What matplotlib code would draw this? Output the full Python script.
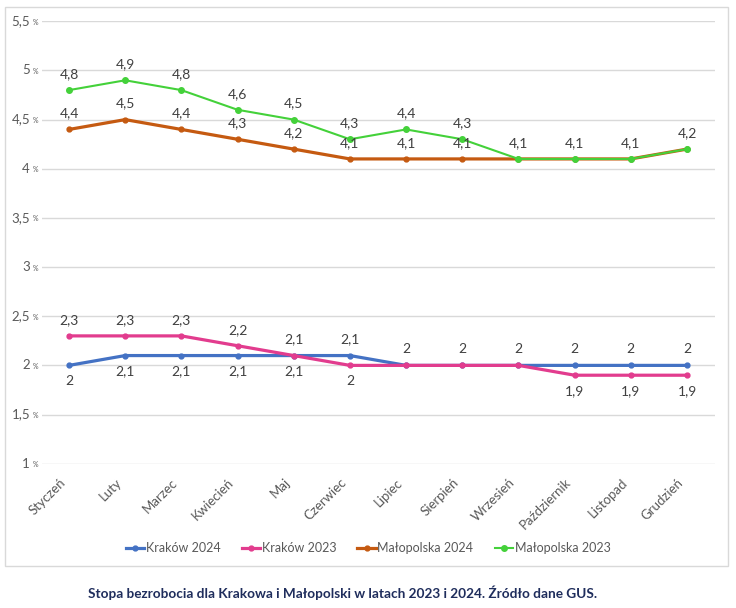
import matplotlib
matplotlib.use("Agg")
import matplotlib.pyplot as plt
from matplotlib.patches import Rectangle
from matplotlib.lines import Line2D
from matplotlib.transforms import ScaledTranslation

months = ["Styczeń", "Luty", "Marzec", "Kwiecień", "Maj", "Czerwiec", "Lipiec",
          "Sierpień", "Wrzesień", "Październik", "Listopad", "Grudzień"]
krakow_2024 = [2, 2.1, 2.1, 2.1, 2.1, 2.1, 2, 2, 2, 2, 2, 2]
krakow_2023 = [2.3, 2.3, 2.3, 2.2, 2.1, 2, 2, 2, 2, 1.9, 1.9, 1.9]
malopolska_2024 = [4.4, 4.5, 4.4, 4.3, 4.2, 4.1, 4.1, 4.1, 4.1, 4.1, 4.1, 4.2]
malopolska_2023 = [4.8, 4.9, 4.8, 4.6, 4.5, 4.3, 4.4, 4.3, 4.1, 4.1, 4.1, 4.2]
y_ticks = [1, 1.5, 2, 2.5, 3, 3.5, 4, 4.5, 5, 5.5]
title = "Stopa bezrobocia dla Krakowa i Małopolski w latach 2023 i 2024. Źródło dane GUS."

# label placement (+1 above, -1 below, 0 hidden)
pos_k24 = [-1, -1, -1, -1, -1, 1, 1, 1, 1, 1, 1, 1]
pos_k23 = [1, 1, 1, 1, 1, -1, 0, 0, 0, -1, -1, -1]
pos_m24 = [1, 1, 1, 1, 1, 1, 1, 1, 0, 0, 0, 0]
pos_m23 = [1] * 12

W, H = 736, 608
plt.rcParams['font.family'] = ['Lato', 'DejaVu Sans']
fig = plt.figure(figsize=(W / 100, H / 100), dpi=100)

# chart frame
fig.patches.append(Rectangle((5 / W, 1 - 566 / H), (728 - 5) / W, (566 - 7) / H,
                             transform=fig.transFigure, fill=False,
                             edgecolor="#d9d9d9", linewidth=1.0))

x_left, x_right = 42, 715
y_top, y_bot = 21.3, 463.7
ax = fig.add_axes([x_left / W, 1 - y_bot / H, (x_right - x_left) / W, (y_bot - y_top) / H])
ax.set_ylim(1, 5.5)
step = (687 - 69) / 11
ax.set_xlim(-(69 - x_left) / step, 11 + (x_right - 687) / step)
for s in ax.spines.values():
    s.set_visible(False)
ax.set_yticks(y_ticks)
ax.yaxis.grid(True, color="#d9d9d9", linewidth=1)
ax.set_axisbelow(True)
ax.tick_params(axis="both", length=0)
ax.set_yticklabels([])
tc = "#595959"
for v in y_ticks:
    lbl = (f"{v:g}").replace(".", ",")
    ax.annotate(lbl, xy=(0, v), xycoords=("axes fraction", "data"),
                xytext=(-12, 0), textcoords="offset pixels",
                ha="right", va="center", fontsize=9.5, color=tc)
    ax.annotate("%", xy=(0, v), xycoords=("axes fraction", "data"),
                xytext=(-4, -1), textcoords="offset pixels",
                ha="right", va="center", fontsize=5, color=tc)

x = list(range(len(months)))
ax.set_xticks(x)
ax.set_xticklabels(months, rotation=45, ha="right", va="top", fontsize=9.5,
                   color=tc, rotation_mode="anchor")
ax.tick_params(axis="x", pad=9)
shift = ScaledTranslation(-10 / 100, 0, fig.dpi_scale_trans)
for t in ax.get_xticklabels():
    t.set_transform(t.get_transform() + shift)

series = [
    ("Kraków 2024", krakow_2024, "#4472C4", 2.3, 3.5, pos_k24),
    ("Kraków 2023", krakow_2023, "#E23C8E", 2.3, 3.5, pos_k23),
    ("Małopolska 2024", malopolska_2024, "#C55A11", 2.3, 3.5, pos_m24),
    ("Małopolska 2023", malopolska_2023, "#44D13A", 1.5, 4.0, pos_m23),
]
handles = []
for name, vals, col, lw, ms, pos in series:
    ax.plot(x, vals, color=col, linewidth=lw, marker="o", markersize=ms,
            solid_joinstyle="round", clip_on=False, zorder=3)
    handles.append(Line2D([0], [0], color=col, linewidth=lw, marker="o", markersize=ms))
    for xi, v, p in zip(x, vals, pos):
        if p == 0:
            continue
        ax.annotate((f"{v:g}").replace(".", ","), xy=(xi, v), xytext=(0, 16 * p),
                    textcoords="offset pixels", ha="center", va="center",
                    fontsize=10, color="#404040", zorder=4)

fig.legend(handles, [s[0] for s in series], loc="center", bbox_to_anchor=(368 / W, 1 - 548 / H),
           ncol=4, frameon=False, fontsize=9, handlelength=1.5, handletextpad=0.1,
           columnspacing=1.7, labelcolor=tc)

fig.text(343 / W, 1 - 593 / H, title, ha="center", va="center", fontsize=9.8,
         fontweight="bold", color="#1F2D5C")

fig.savefig("out.png", dpi=100, facecolor="white")
